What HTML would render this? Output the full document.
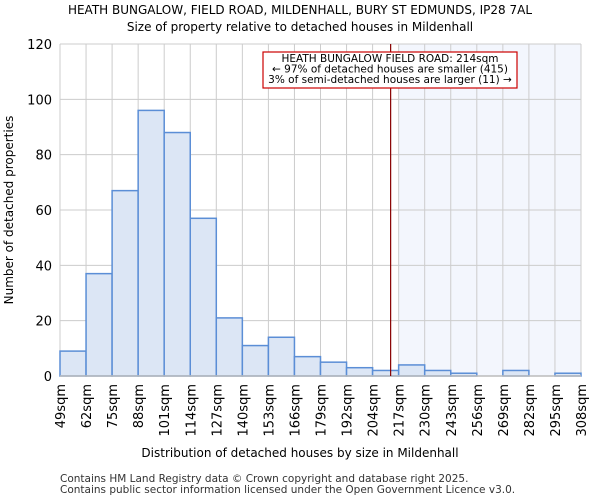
<!DOCTYPE html>
<html><head><meta charset="utf-8"><style>
body{margin:0;background:#fff;font-family:"DejaVu Sans","Liberation Sans",sans-serif}
</style></head><body>
<svg width="600" height="500" xmlns="http://www.w3.org/2000/svg" font-family="DejaVu Sans, Liberation Sans, sans-serif">
<text x="300" y="14" font-size="12" text-anchor="middle">HEATH BUNGALOW, FIELD ROAD, MILDENHALL, BURY ST EDMUNDS, IP28 7AL</text>
<text x="300" y="31" font-size="12" text-anchor="middle">Size of property relative to detached houses in Mildenhall</text>
<g id="plot"></g>
<text x="300" y="457" font-size="12" text-anchor="middle">Distribution of detached houses by size in Mildenhall</text>
<text x="13" y="210" font-size="12" text-anchor="middle" transform="rotate(-90 13 210)">Number of detached properties</text>
<text x="60" y="482" font-size="10.5" fill="#333">Contains HM Land Registry data © Crown copyright and database right 2025.</text>
<text x="60" y="493" font-size="10.5" fill="#333">Contains public sector information licensed under the Open Government Licence v3.0.</text>
</svg>
<script>
const categories=["49sqm","62sqm","75sqm","88sqm","101sqm","114sqm","127sqm","140sqm","153sqm","166sqm","179sqm","192sqm","204sqm","217sqm","230sqm","243sqm","256sqm","269sqm","282sqm","295sqm","308sqm"];
const counts=[9,37,67,96,88,57,21,11,14,7,5,3,2,4,2,1,0,2,0,1];
const yTicks=[0,20,40,60,80,100,120];
const markerValue=214;
const NS="http://www.w3.org/2000/svg";
const g=document.getElementById('plot');
const L=60,R=581,T=44,B=376,yMax=120,x0=49,binW=13;
const n=counts.length;
const xs=v=>L+(v-x0)/(binW*n)*(R-L);
const xb=i=>L+i*(R-L)/n;
const y=v=>B-v/yMax*(B-T);
function mk(tag,attrs){const e=document.createElementNS(NS,tag);for(const k in attrs)e.setAttribute(k,attrs[k]);g.appendChild(e);return e;}
const shadeStart=Math.ceil((markerValue-x0)/binW);
let e=mk('rect',{x:xb(shadeStart),y:T,width:R-xb(shadeStart),height:B-T,fill:'#f3f6fd'});


for(let i=0;i<=n;i++){e=mk('line',{x1:xb(i),x2:xb(i),y1:T,y2:B,stroke:'#cccccc'});

}
yTicks.forEach(t=>{e=mk('line',{x1:L,x2:R,y1:y(t),y2:y(t),stroke:'#cccccc'});


e=mk('text',{x:L-8,y:y(t)+5,'font-size':13,'text-anchor':'end'});e.textContent=t;

});
counts.forEach((c,i)=>{if(c<=0)return;e=mk('rect',{x:xb(i),y:y(c),width:xb(i+1)-xb(i),height:B-y(c),fill:'#dce6f5',stroke:'#5b8ed6','stroke-width':1.5});

});
e=mk('line',{x1:L,x2:R,y1:B,y2:B,stroke:'#bbbbbb','stroke-width':1.5});


categories.forEach((c,i)=>{const xx=xb(i);e=mk('text',{x:xx+5,y:B+8,'font-size':13,'text-anchor':'end',transform:`rotate(-90 ${xx+5} ${B+8})`});e.textContent=c;

});
e=mk('line',{x1:xs(markerValue),x2:xs(markerValue),y1:T,y2:B,stroke:'#880000','stroke-width':1.2});


e=mk('rect',{x:263,y:52,width:254,height:36,fill:'#fff',stroke:'#cc0000','stroke-width':1.2});


["HEATH BUNGALOW FIELD ROAD: 214sqm","← 97% of detached houses are smaller (415)","3% of semi-detached houses are larger (11) →"].forEach((s,i)=>{e=mk('text',{x:390,y:62+i*10.5,'font-size':10.5,'text-anchor':'middle'});e.textContent=s;

});
</script>
</body></html>
